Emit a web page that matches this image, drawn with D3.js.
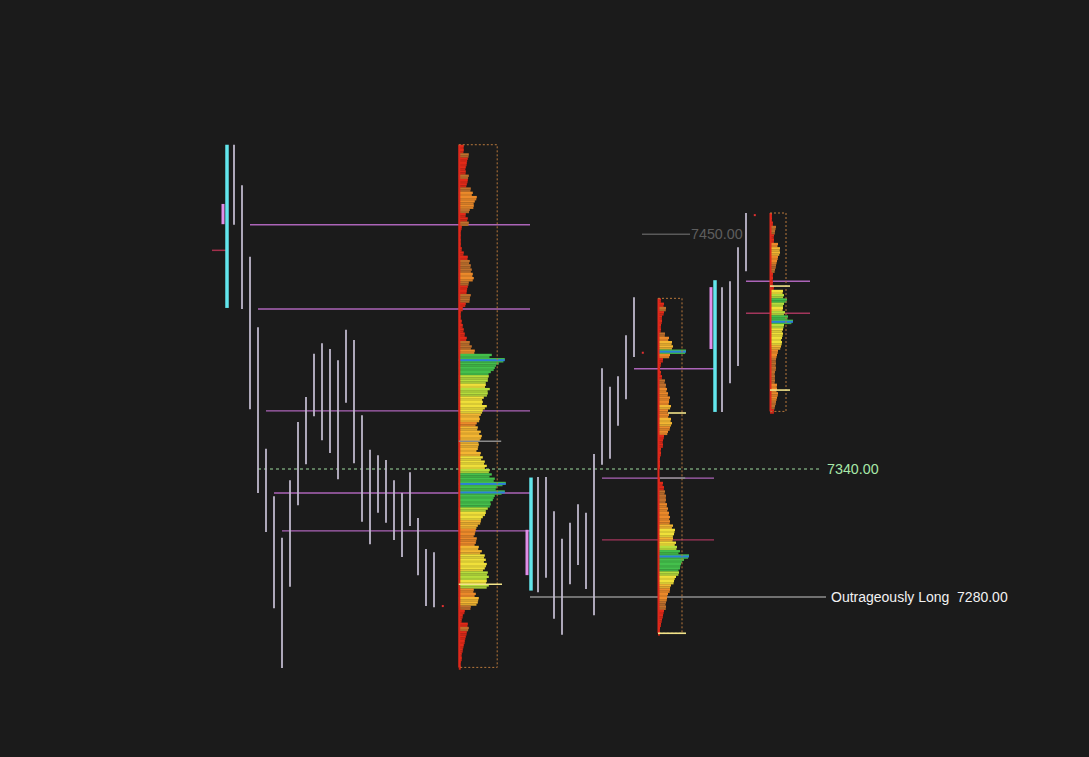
<!DOCTYPE html>
<html>
<head>
<meta charset="UTF-8">
<title>market profile</title>
<script src="https://d3js.org/d3.v7.min.js"></script>
<style>
  html, body { margin: 0; padding: 0; background: #1b1b1b; }
  svg { display: block; }
  text { font-family: "Liberation Sans", Arial, sans-serif; }
</style>
</head>
<body>
<svg id="chart" width="1089" height="757"></svg>
<script>
// ---- price bars (30 min), slot = time position
var barSlot = [0,1,2,3,4,5,6,7,8,9,10,11,12,13,14,15,16,17,18,19,20,21,22,23,24,25,
               38,39,40,41,42,43,44,45,46,47,48,49,50,
               61,62,63,64];
var barHigh = [7492,7473,7439.5,7406.5,7349.5,7327.25,7307.75,7334.75,7362,7373.75,7394,7399,7396.25,7391,7405.25,7400.5,7365.25,7349,7346.5,7344.25,7334.75,7328.75,7338.5,7317,7302.5,7301,
               7336.25,7336.25,7320.25,7307.25,7314.75,7323.5,7319.5,7347,7387.25,7378.5,7383.5,7402.75,7420.5,
               7425.25,7428,7444,7460];
var barLow  = [7454.5,7415,7368,7328.75,7310.5,7274.75,7246.75,7284.75,7323,7342.25,7364.75,7353.5,7347.5,7335.25,7371,7342.75,7315.25,7304.75,7319.5,7314.75,7306.75,7298.75,7313.25,7290.25,7275.75,7275.25,
               7282.25,7289,7269.75,7262.25,7286,7295,7283.75,7271.5,7342,7344.75,7360.25,7372.75,7392.5,
               7366.75,7380.25,7388.25,7432.75];

// initial balance (cyan) and opening range (pink) per session
var ibSlot = [-0.875, 37.125, 60.125];
var ibHigh = [7492, 7336, 7428.5];
var ibLow  = [7415.5, 7283, 7366.75];
var orSlot = [-1.375, 36.625, 59.625];
var orHigh = [7464.25, 7311.5, 7425.25];
var orLow  = [7454.75, 7290.25, 7396.25];

// last price dots
var dotSlot  = [26.1, 51.1, 65.1];
var dotPrice = [7275.75, 7394.5, 7459];

// ---- volume profiles (2 pt rows from the top price down)
var profSlot  = [28.1, 53, 67];
var profTop   = [7492, 7420, 7460];
var profRight = [32.9, 56, 69];
var profStep  = 2;
var prof1 = [5,5,10,9,8,7,7,10,9,8,12,14,18,16,15,11,7,9,10,3,
             2,2,2,2,3,5,9,11,12,13,14,15,10,9,8,12,11,7,4,2,
             2,3,4,5,6,8,11,13,16,33,46,40,36,32,30,29,27,31,29,25,
             24,28,24,22,21,18,19,22,23,21,20,19,22,24,26,28,31,33,36,47,
             38,46,36,34,32,29,27,24,22,19,17,16,18,17,20,23,26,27,28,26,
             29,30,28,30,15,17,20,19,12,6,4,3,9,10,8,7,6,5,4,3,
             3,2,2];
var prof2 = [3,6,8,6,4,4,3,3,7,11,14,15,28,12,5,3,2,3,4,7,
             8,9,10,12,11,13,10,11,13,14,12,10,6,5,5,3,3,2,2,2,
             1,1,2,5,6,7,8,8,9,10,11,12,12,15,17,16,15,18,19,22,
             31,26,23,22,21,18,16,13,12,10,9,8,8,6,5,4,3,2,2];
var prof3 = [2,2,3,6,5,4,4,8,10,10,8,7,6,5,3,3,3,4,13,14,
             17,14,13,15,18,23,14,13,13,12,12,11,8,7,6,6,6,5,5,5,
             7,7,8,7,6,5,4];
var profiles = [prof1, prof2, prof3];

// yellow / grey marks inside the profiles
var markPrice = [7286, 7366.25, 7263, 7425.75, 7377, 7353, 7335.75];
var markFrom  = [28.1, 54.25, 53, 67, 67, 28.1, 53.25];
var markTo    = [33.5, 56.5, 56.5, 69.5, 69.5, 33.4, 56.4];
var markKind  = ["y","y","y","y","y","g","g"];

// ---- extended levels
var levelPrice = [7454.5, 7415, 7367.25, 7328.75, 7311, 7387, 7335.75, 7306.75, 7428, 7413];
var levelFrom  = [2, 3, 4, 5, 6, 50, 46, 46, 64, 64];
var levelTo    = [37, 37, 37, 37, 37, 60, 60, 60, 72, 72];
var levelKind  = ["va","va","va","va","va","va","va","poc","va","poc"];

// ---- labelled reference lines
var refPrice = [7340, 7280, 7450];
var refFrom  = [3, 37, 51];
var refTo    = [73.25, 74, 57];
var refLabel = ["7340.00", "Outrageously Long  7280.00", "7450.00"];
var refKind  = ["dash", "long", "old"];

var svg = d3.select("#chart");
svg.append("rect").attr("width", 1089).attr("height", 757).attr("fill", "#1b1b1b");

var x = d3.scaleLinear().domain([0, 65]).range([234, 754]);
var y = d3.scaleLinear().domain([7280, 7340]).range([597, 469]);
var w = d3.scaleLinear().domain([0, 10]).range([0, 10]);

var heat = d3.scaleThreshold()
    .domain([0.2, 0.29, 0.40, 0.50, 0.60, 0.68, 0.88])
    .range(["#e22a18","#c0702c","#ec8a2a","#f4b632","#f0e03a","#b6de3c","#44c04c","#2c7fd6"]);

// levels (behind everything)
svg.selectAll("line.level")
   .data(levelPrice)
   .enter().append("line")
   .attr("x1", function(d,i){ return x(levelFrom[i]); })
   .attr("x2", function(d,i){ return x(levelTo[i]); })
   .attr("y1", function(d){ return y(d); })
   .attr("y2", function(d){ return y(d); })
   .attr("stroke", function(d,i){ return levelKind[i] === "poc" ? "#a3365c" : "#ac64b8"; })
   .attr("stroke-width", 1.3);

// reference lines
var refColor = {dash: "#9fdc9f", long: "#c8c8c8", old: "#5a5a5a"};
svg.selectAll("line.ref")
   .data(refPrice)
   .enter().append("line")
   .attr("x1", function(d,i){ return x(refFrom[i]); })
   .attr("x2", function(d,i){ return x(refTo[i]); })
   .attr("y1", function(d){ return y(d); })
   .attr("y2", function(d){ return y(d); })
   .attr("stroke", function(d,i){ return refColor[refKind[i]]; })
   .attr("stroke-width", function(d,i){ return refKind[i] === "old" ? 1.5 : 1; })
   .attr("stroke-dasharray", function(d,i){ return refKind[i] === "dash" ? "3,3" : null; });

svg.selectAll("text.ref")
   .data(refPrice)
   .enter().append("text")
   .attr("x", function(d,i){ return x(refTo[i]) + (refKind[i] === "old" ? 1 : refKind[i] === "dash" ? 7 : 5); })
   .attr("y", function(d){ return y(d); })
   .attr("dy", "0.36em")
   .style("white-space", "pre")
   .attr("font-size", function(d,i){ return refKind[i] === "long" ? 14 : 14.3; })
   .attr("fill", function(d,i){ return refKind[i] === "dash" ? "#a8e8a8" : refKind[i] === "long" ? "#f2f2f2" : "#5e5e5e"; })
   .text(function(d,i){ return refLabel[i]; });

// open tick in first session
svg.append("line")
   .attr("x1", x(-2.75)).attr("x2", x(-1))
   .attr("y1", y(7442.5)).attr("y2", y(7442.5))
   .attr("stroke", "#a3304c").attr("stroke-width", 1.5);

// price bars
svg.selectAll("line.bar")
   .data(barSlot)
   .enter().append("line")
   .attr("x1", function(d){ return x(d); })
   .attr("x2", function(d){ return x(d); })
   .attr("y1", function(d,i){ return y(barHigh[i]); })
   .attr("y2", function(d,i){ return y(barLow[i]); })
   .attr("stroke", "#bfb8cc")
   .attr("stroke-width", 1.8);

// opening range + initial balance
svg.selectAll("line.or")
   .data(orSlot)
   .enter().append("line")
   .attr("x1", function(d){ return x(d); })
   .attr("x2", function(d){ return x(d); })
   .attr("y1", function(d,i){ return y(orHigh[i]); })
   .attr("y2", function(d,i){ return y(orLow[i]); })
   .attr("stroke", "#e08ee8")
   .attr("stroke-width", 3);

svg.selectAll("line.ib")
   .data(ibSlot)
   .enter().append("line")
   .attr("x1", function(d){ return x(d); })
   .attr("x2", function(d){ return x(d); })
   .attr("y1", function(d,i){ return y(ibHigh[i]); })
   .attr("y2", function(d,i){ return y(ibLow[i]); })
   .attr("stroke", "#62e6ec")
   .attr("stroke-width", 3.5);

svg.selectAll("rect.dot")
   .data(dotSlot)
   .enter().append("rect")
   .attr("x", function(d){ return x(d) - 1; })
   .attr("y", function(d,i){ return y(dotPrice[i]) - 1; })
   .attr("width", 2).attr("height", 2)
   .attr("fill", "#e03030");

// profiles
profiles.forEach(function(p, k){
    var mx = d3.max(p);
    var x0 = x(profSlot[k]);
    var g = svg.append("g");
    var rowH = y(0) - y(profStep);
    var rows = g.selectAll("g")
     .data(p)
     .enter().append("g")
     .attr("transform", function(d,i){ return "translate(" + x0 + "," + y(profTop[k] - profStep*i) + ")"; });

    // two stripes per row, lower one a touch darker
    rows.append("rect")
     .attr("width", function(d){ return w(d); })
     .attr("height", rowH / 2 + 0.2)
     .attr("fill", function(d){ return heat(Math.min(d / mx, 0.86)); });
    rows.append("rect")
     .attr("y", rowH / 2)
     .attr("width", function(d,i){ return w(d) * (i % 2 ? 0.93 : 0.97); })
     .attr("height", rowH / 2 + 0.2)
     .attr("fill", function(d){ return d3.color(heat(Math.min(d / mx, 0.86))).darker(0.3); });
    // peak rows as a thin blue line
    rows.filter(function(d){ return d / mx >= 0.88; })
     .append("rect")
     .attr("y", rowH / 2 - 1)
     .attr("width", function(d){ return w(d); })
     .attr("height", 2)
     .attr("fill", "#2c7fd6");

    var bottom = profTop[k] - profStep*(p.length - 1) - 1;
    // red spine
    g.append("line")
     .attr("x1", x0 + 0.5).attr("x2", x0 + 0.5)
     .attr("y1", y(profTop[k])).attr("y2", y(bottom))
     .attr("stroke", "#e0281c").attr("stroke-width", 2);
    // dotted frame
    g.append("path")
     .attr("d", "M" + x0 + "," + y(profTop[k]) +
                "H" + x(profRight[k]) +
                "V" + y(bottom) +
                "H" + x0)
     .attr("fill", "none")
     .attr("stroke", "#b8783c")
     .attr("stroke-width", 1)
     .attr("stroke-dasharray", "2,2");
});

// marks inside profiles
svg.selectAll("line.mark")
   .data(markPrice)
   .enter().append("line")
   .attr("x1", function(d,i){ return x(markFrom[i]); })
   .attr("x2", function(d,i){ return x(markTo[i]); })
   .attr("y1", function(d){ return y(d); })
   .attr("y2", function(d){ return y(d); })
   .attr("stroke", function(d,i){ return markKind[i] === "y" ? "#f2e48a" : "#8a8a8a"; })
   .attr("stroke-width", 1.6);
</script>
</body>
</html>
